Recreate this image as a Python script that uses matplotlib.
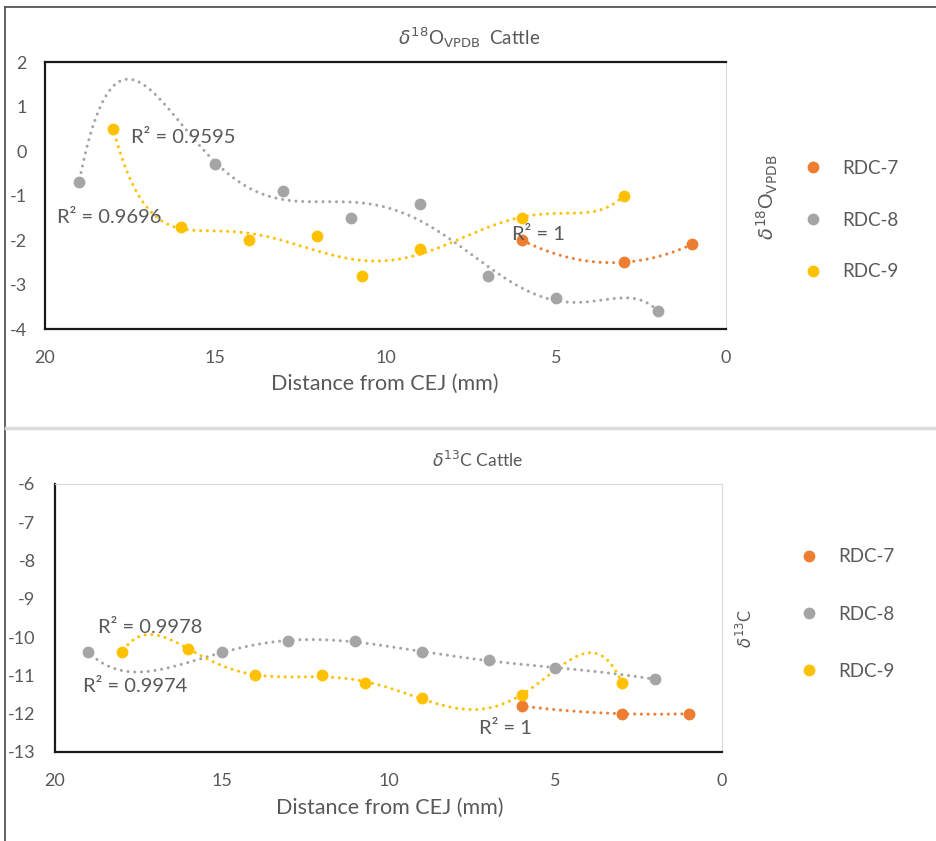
import numpy as np
import matplotlib
matplotlib.use('Agg')
import matplotlib.pyplot as plt
from matplotlib.lines import Line2D

plt.rcParams['font.family'] = ['Lato', 'DejaVu Sans']
plt.rcParams['mathtext.fontset'] = 'dejavusans'
plt.rcParams['axes.unicode_minus'] = False

# delta 18O (top chart)
o_x7 = [6, 3, 1]
o_y7 = [-2.0, -2.5, -2.1]
o_x8 = [19, 15, 13, 11, 9, 7, 5, 2]
o_y8 = [-0.7, -0.3, -0.9, -1.5, -1.2, -2.8, -3.3, -3.6]
o_x9 = [18, 16, 14, 12, 10.7, 9, 6, 3]
o_y9 = [0.5, -1.7, -2.0, -1.9, -2.8, -2.2, -1.5, -1.0]

# delta 13C (bottom chart)
c_x7 = [6, 3, 1]
c_y7 = [-11.8, -12.0, -12.0]
c_x8 = [19, 15, 13, 11, 9, 7, 5, 2]
c_y8 = [-10.4, -10.4, -10.1, -10.1, -10.4, -10.6, -10.8, -11.1]
c_x9 = [18, 16, 14, 12, 10.7, 9, 6, 3]
c_y9 = [-10.4, -10.3, -11.0, -11.0, -11.2, -11.6, -11.5, -11.2]

series_names = ['RDC-7', 'RDC-8', 'RDC-9']
colors = ['#ED7D31', '#A5A5A5', '#FFC000']
orders = [2, 6, 6]

o_r2 = ['R² = 1', 'R² = 0.9595', 'R² = 0.9696']
o_r2_pos = [(5.5, -1.87), (15.95, 0.31), (18.1, -1.49)]
c_r2 = ['R² = 1', 'R² = 0.9974', 'R² = 0.9978']
c_r2_pos = [(6.5, -12.38), (17.6, -11.29), (17.15, -9.75)]

txt = '#595959'
W, H = 936, 841
fig = plt.figure(figsize=(W / 100, H / 100), dpi=100)


def frac(l, t, r, b):
    return [l / W, 1 - b / H, (r - l) / W, (b - t) / H]


def panel(rect, xs, ys, r2, r2pos, ylim, pad_y):
    ax = fig.add_axes(rect)
    for x, y, c, o in zip(xs, ys, colors, orders):
        p = np.polyfit(x, y, o)
        xx = np.linspace(min(x), max(x), 300)
        ax.plot(xx, np.polyval(p, xx), color=c, lw=2.2, ls=(0, (0.01, 2.2)),
                dash_capstyle='round', zorder=2)
        ax.plot(x, y, 'o', color=c, ms=8.5, mec='none', zorder=3)
    for s, (px, py) in zip(r2, r2pos):
        ax.text(px, py, s, color=txt, fontsize=14.5, ha='center', va='center', zorder=4)
    ax.set_xlim(20, 0)
    ax.set_ylim(*ylim)
    ax.set_xticks([20, 15, 10, 5, 0])
    ax.set_yticks(range(ylim[0], ylim[1] + 1))
    ax.tick_params(length=0, labelsize=13, labelcolor=txt)
    ax.tick_params(axis='y', pad=pad_y)
    ax.tick_params(axis='x', pad=15)
    return ax


ax1 = panel(frac(45, 62, 726, 329), [o_x7, o_x8, o_x9], [o_y7, o_y8, o_y9],
            o_r2, o_r2_pos, (-4, 2), 13)
for s in ['left', 'top', 'bottom']:
    ax1.spines[s].set_color('#1a1a1a')
    ax1.spines[s].set_linewidth(1.6)
ax1.spines['right'].set_color('#d9d9d9')

ax2 = panel(frac(55, 484, 722, 752), [c_x7, c_x8, c_x9], [c_y7, c_y8, c_y9],
            c_r2, c_r2_pos, (-13, -6), 14)
for s in ['left', 'bottom']:
    ax2.spines[s].set_color('#1a1a1a')
    ax2.spines[s].set_linewidth(1.6)
for s in ['top', 'right']:
    ax2.spines[s].set_color('#d9d9d9')

# titles and axis labels
fig.text(469 / W, 1 - 38 / H, r'$\delta^{18}$O$_{\mathrm{VPDB}}$  Cattle',
         color=txt, fontsize=13.5, ha='center', va='center')
fig.text(478 / W, 1 - 460 / H, r'$\delta^{13}$C Cattle',
         color=txt, fontsize=12.5, ha='center', va='center')
fig.text(385 / W, 1 - 384 / H, 'Distance from CEJ (mm)', color=txt,
         fontsize=15.5, ha='center', va='center')
fig.text(390 / W, 1 - 808 / H, 'Distance from CEJ (mm)', color=txt,
         fontsize=15.5, ha='center', va='center')
fig.text(767 / W, 1 - 197 / H, r'$\delta^{18}$O$_{\mathrm{VPDB}}$', color=txt,
         fontsize=14, rotation=90, ha='center', va='center')
fig.text(745 / W, 1 - 628 / H, r'$\delta^{13}$C', color=txt,
         fontsize=12, rotation=90, ha='center', va='center')

# legends
handles = [Line2D([], [], marker='o', ls='none', color=c, ms=8.5, mec='none')
           for c in colors]
fig.legend(handles, series_names, loc='center left',
           bbox_to_anchor=(777 / W, 1 - 220 / H), frameon=False,
           fontsize=13.5, labelcolor=txt, labelspacing=1.85, handletextpad=0.6)
fig.legend(handles, series_names, loc='center left',
           bbox_to_anchor=(773 / W, 1 - 614 / H), frameon=False,
           fontsize=13.5, labelcolor=txt, labelspacing=2.15, handletextpad=0.6)

# chart frames from the screenshot
fig.add_artist(Line2D([5 / W, 5 / W], [0, 1 - 7 / H], color='#555555', lw=1.3))
fig.add_artist(Line2D([5 / W, 1], [1 - 7 / H, 1 - 7 / H], color='#555555', lw=1.3))
fig.add_artist(Line2D([6 / W, 1], [1 - 428 / H, 1 - 428 / H], color='#dcdcdc', lw=2.5))

fig.savefig('out.png', dpi=100)
